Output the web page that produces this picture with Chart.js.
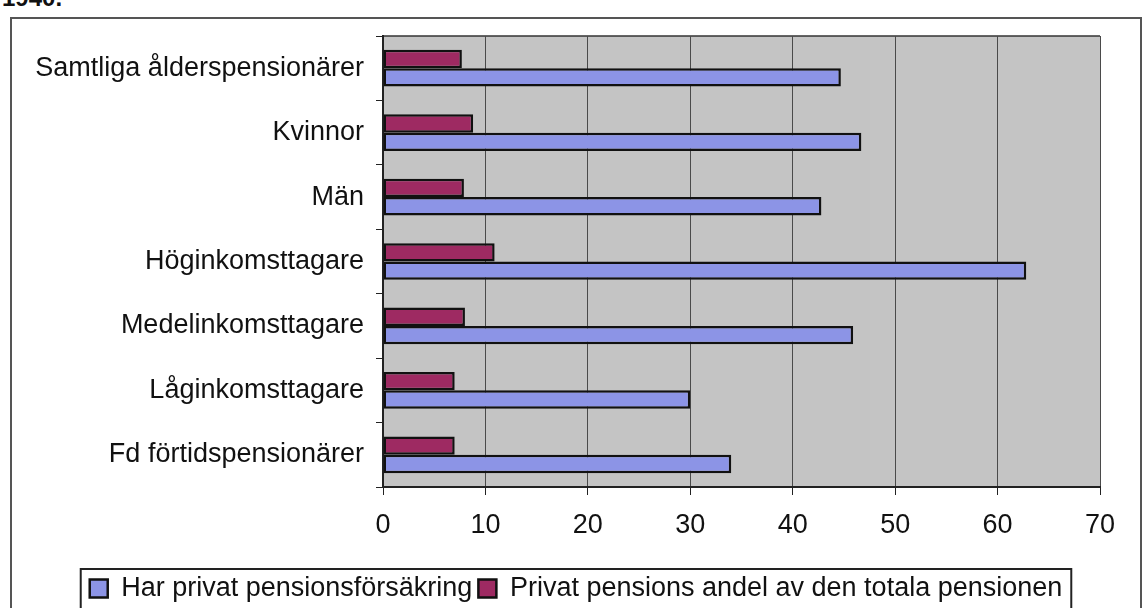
<!DOCTYPE html>
<html>
<head>
<meta charset="utf-8">
<script src="https://cdn.jsdelivr.net/npm/chart.js@4.4.1/dist/chart.umd.min.js"></script>
<style>
  body { margin: 0; background: #fff; font-family: "Liberation Sans", Arial, sans-serif; }
  #wrap { position: relative; width: 1143px; height: 608px; overflow: hidden; }
  #ram { position: absolute; left: 10px; top: 17px; width: 1128px; height: 620px; border: 2px solid #555; }
  #rubrik { position: absolute; left: 2px; top: -16px; font: bold 24px "Liberation Sans", Arial, sans-serif; color: #111; }
  canvas { position: absolute; left: 0; top: 0; }
</style>
</head>
<body>
<div id="wrap">
  <div id="rubrik">1940.</div>
  <div id="ram"></div>
  <canvas id="myChart" width="1143" height="608"></canvas>
</div>
<script>
const kategorier = [
  "Samtliga ålderspensionärer",
  "Kvinnor",
  "Män",
  "Höginkomsttagare",
  "Medelinkomsttagare",
  "Låginkomsttagare",
  "Fd förtidspensionärer"
];
const harPrivat = [44.7, 46.7, 42.8, 62.8, 45.9, 30, 34];
const privatAndel = [7.7, 8.8, 7.9, 10.9, 8, 7, 7];
const xTicks = [0, 10, 20, 30, 40, 50, 60, 70];

const ctx = document.getElementById("myChart");
const typsnitt = { family: "'Liberation Sans', Arial, sans-serif", size: 27 };

// grå bakgrund i ritytan + ram runt förklaringen
const bakgrund = {
  id: "bakgrund",
  afterLayout(chart) {
    // förklaringen sitter lite till höger i originalet
    chart.legend.left += 26;
    chart.legend.right += 26;
  },
  beforeDraw(chart) {
    const a = chart.chartArea;
    const c = chart.ctx;
    c.save();
    c.fillStyle = "#c4c4c4";
    c.fillRect(a.left, a.top, a.right - a.left, a.bottom - a.top);
    c.strokeStyle = "#333";
    c.lineWidth = 1.5;
    c.beginPath();
    c.moveTo(a.left, a.top);
    c.lineTo(a.right, a.top);
    c.stroke();
    c.restore();
  },
  afterDraw(chart) {
    const lg = chart.legend;
    if (!lg || !lg.legendHitBoxes.length) return;
    const boxes = lg.legendHitBoxes;
    const left = Math.min(...boxes.map((b) => b.left)) - 9;
    const right = Math.max(...boxes.map((b) => b.left + b.width)) + 9;
    const top = boxes[0].top - 6;
    const c = chart.ctx;
    c.save();
    c.strokeStyle = "#222";
    c.lineWidth = 2;
    c.strokeRect(left, top, right - left, 60);
    c.restore();
  }
};

new Chart(ctx, {
  type: "bar",
  data: {
    labels: kategorier,
    datasets: [
      {
        label: "Privat pensions andel av den totala pensionen",
        data: privatAndel,
        backgroundColor: "#9e2a62",
        borderColor: "#111",
        borderWidth: 2.5,
        borderSkipped: false
      },
      {
        label: "Har privat pensionsförsäkring",
        data: harPrivat,
        backgroundColor: "#8c94e6",
        borderColor: "#111",
        borderWidth: 2.5,
        borderSkipped: false
      }
    ]
  },
  options: {
    indexAxis: "y",
    responsive: false,
    animation: false,
    devicePixelRatio: 1,
    datasets: {
      bar: { barPercentage: 1, categoryPercentage: 0.57 }
    },
    layout: { padding: { top: 36, right: 43, left: 0, bottom: -4 } },
    scales: {
      x: {
        min: 0,
        max: 70,
        afterBuildTicks(scale) {
          scale.ticks = xTicks.map((v) => ({ value: v }));
        },
        afterFit(scale) {
          scale.height = 82;
        },
        grid: { color: "#4a4a4a", lineWidth: 1, tickLength: 8, tickColor: "#222" },
        border: { color: "#222", width: 2 },
        ticks: { color: "#111", font: typsnitt, padding: 14 }
      },
      y: {
        afterFit(scale) {
          scale.width = 383;
        },
        grid: { drawOnChartArea: false, offset: true, tickLength: 7, tickColor: "#222" },
        border: { color: "#222", width: 2 },
        ticks: { color: "#111", font: typsnitt, padding: 12 }
      }
    },
    plugins: {
      tooltip: { enabled: false },
      legend: {
        position: "bottom",
        labels: {
          font: typsnitt,
          color: "#111",
          boxWidth: 18,
          boxHeight: 18,
          padding: 6,
          sort: (a, b) => b.datasetIndex - a.datasetIndex
        }
      }
    }
  },
  plugins: [bakgrund]
});
</script>
</body>
</html>
